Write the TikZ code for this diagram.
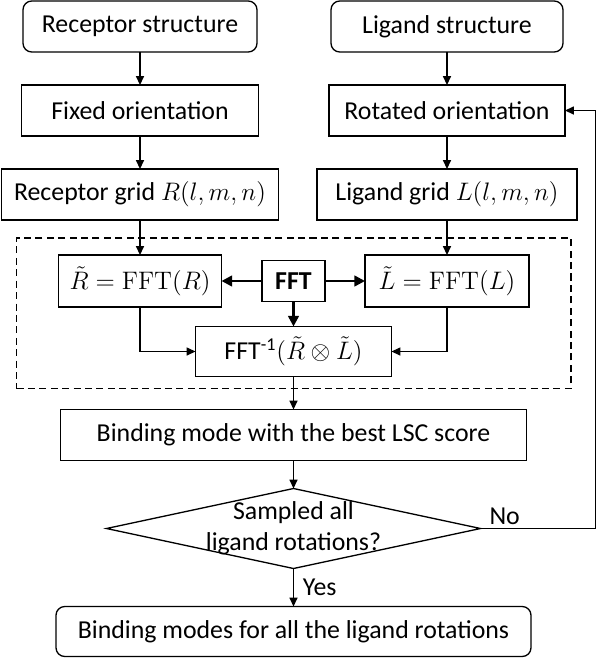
\documentclass[tikz,border=0pt]{standalone}
\usepackage{amsmath,amssymb}
\usepackage[no-math]{fontspec}
\setmainfont{Carlito}
\usepackage{tikz}
\usetikzlibrary{
  arrows.meta, positioning, shapes.geometric, fit, calc
}

\begin{document}
\begin{tikzpicture}[
    font=\fontsize{14.7}{17.6}\selectfont,
    every node/.style={outer sep=0pt},
    box/.style={draw, line width=0.75pt, minimum height=1.02cm, inner sep=2pt},
    rbox/.style={box, rounded corners=5pt},
    arr/.style={-{Triangle[length=5pt,width=4.5pt]}, line width=0.75pt},
    farr/.style={-{Triangle[length=6pt,width=6pt]}, line width=1.4pt},
    decision/.style={diamond, draw, line width=0.75pt,
                     minimum width=7.48cm, minimum height=1.6cm, inner sep=0pt}
  ]
  \useasboundingbox (0,0) rectangle (11.92,-13.18);
  % Structures
  \node[rbox, minimum width=4.68cm] (rec) at (2.80,-0.53) {Receptor structure};
  \node[rbox, minimum width=4.64cm] (lig) at (8.94,-0.53) {Ligand structure};
  % Orientations
  \node[box, minimum width=4.74cm, below=0.66cm of rec] (fixed) {Fixed orientation};
  \node[box, minimum width=4.72cm, below=0.66cm of lig] (rot) {Rotated orientation};
  % Grids
  \node[box, minimum width=5.54cm, below=0.66cm of fixed] (recgrid) {Receptor grid $R(l,m,n)$};
  \node[box, minimum width=5.20cm, below=0.66cm of rot] (liggrid) {Ligand grid $L(l,m,n)$};
  % Transforms
  \node[box, minimum width=3.26cm, minimum height=1.04cm,
        below=0.70cm of recgrid] (rfft) {$\tilde{R}=\mathrm{FFT}(R)$};
  \node[box, minimum width=3.28cm, minimum height=1.04cm,
        below=0.70cm of liggrid] (lfft) {$\tilde{L}=\mathrm{FFT}(L)$};
  \node[box, minimum width=1.26cm, minimum height=0.82cm]
        (fft) at ($(rfft)!0.5!(lfft)$) {\textbf{FFT}};
  \node[box, minimum width=3.92cm, minimum height=1.0cm,
        below=0.50cm of fft] (ifft) {FFT\textsuperscript{-1}$(\tilde{R}\otimes\tilde{L})$};
  \node[draw, dashed, dash pattern=on 4pt off 2.5pt, line width=0.75pt, inner sep=0pt,
        fit={($(rfft.north west)+(-0.84,0.34)$) ($(lfft.east |- ifft.south)+(0.84,-0.24)$)}] (fftbox) {};
  % Scoring and loop
  \node[box, minimum width=9.32cm, below=0.66cm of ifft] (best) {Binding mode with the best LSC score};
  \node[decision, below=0.56cm of best] (dec) {};
  \node[align=center, inner sep=0pt] (dectxt) at (dec) {Sampled all\\ligand rotations?};
  \node[rbox, minimum width=9.5cm, minimum height=1.0cm,
        below=0.76cm of dec] (final) {Binding modes for all the ligand rotations};
  % Arrows
  \draw[arr] (rec) -- (fixed);
  \draw[arr] (lig) -- (rot);
  \draw[arr] (fixed) -- (recgrid);
  \draw[arr] (rot) -- (liggrid);
  \draw[arr] (recgrid) -- (rfft);
  \draw[arr] (liggrid) -- (lfft);
  \draw[farr] (fft) -- (rfft);
  \draw[farr] (fft) -- (lfft);
  \draw[farr] (fft) -- (ifft);
  \draw[arr] (rfft.south) |- (ifft.west);
  \draw[arr] (lfft.south) |- (ifft.east);
  \draw[arr] (ifft) -- (best);
  \draw[arr] (best) -- (dec);
  \draw[arr] (dec) -- node[right, xshift=2pt] {Yes} (final);
  \draw[arr] (dec.east) -- node[above, pos=0.21, inner sep=2pt] {No} ++(2.3,0) |- (rot.east);
\end{tikzpicture}
\end{document}
